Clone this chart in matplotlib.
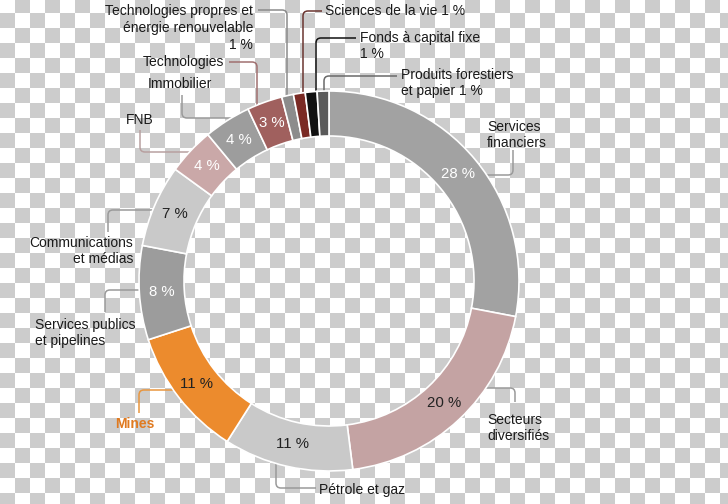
import numpy as np
import matplotlib
matplotlib.use("Agg")
import matplotlib.pyplot as plt
from matplotlib.colors import ListedColormap
from matplotlib.path import Path
from matplotlib.patches import PathPatch

plt.rcParams['font.family'] = ['Liberation Sans', 'DejaVu Sans']

# ---- data (clockwise from 12 o'clock) ----
categories = ["Services financiers", "Secteurs diversifiés", "Pétrole et gaz", "Mines",
              "Services publics et pipelines", "Communications et médias", "FNB", "Immobilier",
              "Technologies", "Technologies propres et énergie renouvelable",
              "Sciences de la vie", "Fonds à capital fixe", "Produits forestiers et papier"]
values = [28, 20, 11, 11, 8, 7, 4, 4, 3, 1, 1, 1, 1]
colors = ["#a2a2a2", "#c4a3a3", "#c9c9c9", "#ec8b2d", "#9c9c9c", "#c9c9c9", "#caa8a8",
          "#9d9d9d", "#a0605e", "#8c8c8c", "#7a2a24", "#111111", "#5a5a5a"]
pct_text_colors = ["white", "#222222", "#222222", "#222222", "white", "#222222", "white",
                   "white", "white", None, None, None, None]

W, H = 728, 504
fig = plt.figure(figsize=(W / 100, H / 100), dpi=100)
ax = fig.add_axes([0, 0, 1, 1])

# transparent-looking checkerboard background
yy, xx = np.mgrid[0:H, 0:W]
board = ((xx // 15) + ((yy + 2) // 15)) % 2
ax.imshow(board, cmap=ListedColormap(["white", "#cccccc"]), extent=(0, W, 0, H),
          origin="upper", interpolation="nearest", zorder=0)

cx, cy = 329, H - 281
wedges, _ = ax.pie(values, colors=colors, startangle=90, counterclock=False,
                   center=(cx, cy), radius=190, frame=True,
                   wedgeprops=dict(width=45, edgecolor="white", linewidth=1.2))
for w in wedges:
    w.set_zorder(2)

for w, v, tc in zip(wedges, values, pct_text_colors):
    if tc is None:
        continue
    ang = np.deg2rad((w.theta1 + w.theta2) / 2)
    r = w.r - w.width / 2
    ax.text(w.center[0] + r * np.cos(ang), w.center[1] + r * np.sin(ang), f"{v} %",
            ha="center", va="center", fontsize=10.8, color=tc, zorder=3)

def Y(y):
    return H - y

def leader(pts, color="#9a9a9a", rad=5):
    P = [np.array([p[0], Y(p[1])], dtype=float) for p in pts]
    verts = [P[0]]
    codes = [Path.MOVETO]
    for i in range(1, len(P) - 1):
        a, b, c = P[i - 1], P[i], P[i + 1]
        d1 = (a - b) / np.linalg.norm(a - b)
        d2 = (c - b) / np.linalg.norm(c - b)
        verts += [b + d1 * rad, b, b + d2 * rad]
        codes += [Path.LINETO, Path.CURVE3, Path.CURVE3]
    verts.append(P[-1])
    codes.append(Path.LINETO)
    ax.add_patch(PathPatch(Path(verts, codes), fill=False, edgecolor=color, lw=1.1,
                           zorder=1, capstyle="butt"))

fs = 10
ls = 1.25
txt = "#1a1a1a"
ax.text(253, Y(28), "Technologies propres et\nénergie renouvelable\n1 %", ha="right", va="center",
        fontsize=fs, color=txt, linespacing=ls, multialignment="right")
leader([(258, 10), (287, 10), (287, 100)], "#8c8c8c")
ax.text(325, Y(11), "Sciences de la vie 1 %", ha="left", va="center", fontsize=fs, color=txt)
leader([(322, 11), (303, 11), (303, 100)], "#6b3530")
ax.text(360, Y(46), "Fonds à capital fixe\n1 %", ha="left", va="center", fontsize=fs, color=txt,
        linespacing=ls)
leader([(356, 38), (316, 38), (316, 100)], "#111111")
ax.text(401, Y(83), "Produits forestiers\net papier 1 %", ha="left", va="center", fontsize=fs,
        color=txt, linespacing=ls)
leader([(397, 76), (324, 76), (324, 100)], "#6a6a6a")
ax.text(224, Y(62), "Technologies", ha="right", va="center", fontsize=fs, color=txt)
leader([(229, 62), (257, 62), (257, 110)], "#a07070")
ax.text(180, Y(84), "Immobilier", ha="center", va="center", fontsize=fs, color=txt)
leader([(182, 95), (182, 118), (240, 118)])
ax.text(140, Y(120), "FNB", ha="center", va="center", fontsize=fs, color=txt)
leader([(140, 130), (140, 152), (195, 152)], "#b8a0a0")
ax.text(133, Y(251), "Communications\net médias", ha="right", va="center", fontsize=fs, color=txt,
        linespacing=ls, multialignment="right")
leader([(108, 232), (108, 210), (158, 210)])
ax.text(35, Y(333), "Services publics\net pipelines", ha="left", va="center", fontsize=fs,
        color=txt, linespacing=ls)
leader([(105, 312), (105, 290), (145, 290)])
ax.text(135, Y(424), "Mines", ha="center", va="center", fontsize=fs, color="#e07a20",
        fontweight="bold")
leader([(139, 413), (139, 390), (180, 390)], "#e8963f")
ax.text(319, Y(490), "Pétrole et gaz", ha="left", va="center", fontsize=fs, color=txt)
leader([(316, 488), (276, 488), (276, 458)])
ax.text(487, Y(428), "Secteurs\ndiversifiés", ha="left", va="center", fontsize=fs, color=txt,
        linespacing=ls)
leader([(515, 402), (515, 388), (480, 388)])
ax.text(487, Y(135), "Services\nfinanciers", ha="left", va="center", fontsize=fs, color=txt,
        linespacing=ls)
leader([(513, 150), (513, 175), (480, 175)])

ax.set_xlim(0, W)
ax.set_ylim(0, H)
ax.set_aspect("equal")
ax.axis("off")

fig.savefig("out.png", dpi=100)
